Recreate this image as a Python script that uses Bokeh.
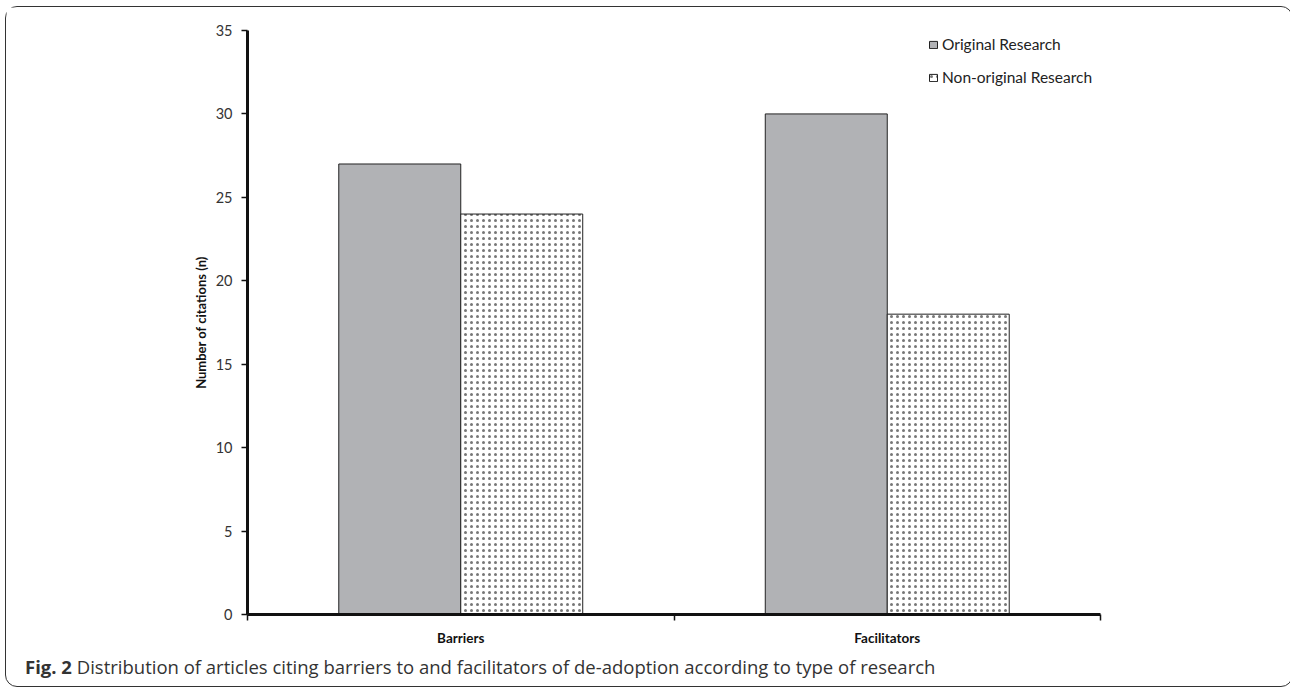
from bokeh.plotting import figure
from bokeh.models import (LinearAxis, FixedTicker, Legend, LegendItem, Div,
                          ColumnDataSource)
from bokeh.layouts import column
from bokeh.embed import file_html
from bokeh.resources import INLINE

categories = ["Barriers", "Facilitators"]
original = [27, 30]
non_original = [24, 18]
series_names = ["Original Research", "Non-original Research"]
y_ticks = [0, 5, 10, 15, 20, 25, 30, 35]
caption_bold = "Fig. 2"
caption_text = "Distribution of articles citing barriers to and facilitators of de-adoption according to type of research"

FONT = "Lato"
BW = 0.286
centers = [i + 0.5 for i in range(len(categories))]
bounds = list(range(len(categories) + 1))

src = ColumnDataSource(dict(
    x_orig=[c - BW / 2 for c in centers],
    x_non=[c + BW / 2 for c in centers],
    orig=original, non=non_original,
))

p = figure(frame_width=853, frame_height=584,
           x_range=(0, len(categories)), y_range=(0, 35),
           output_backend="svg", toolbar_location=None,
           min_border_left=241, min_border_top=23, min_border_right=184,
           min_border_bottom=10)
p.outline_line_color = None
p.xgrid.visible = False
p.ygrid.visible = False

r1 = p.vbar(x="x_orig", top="orig", width=BW, source=src,
            fill_color="#b1b2b5", line_color="#222222", line_width=1)
r2 = p.vbar(x="x_non", top="non", width=BW, source=src,
            fill_color="white", line_color="#222222", line_width=1,
            hatch_pattern="dot", hatch_color="#777777", hatch_scale=6,
            hatch_weight=0.8)

# y axis
ya = p.yaxis[0]
ya.ticker = FixedTicker(ticks=y_ticks)
ya.axis_line_width = 3
ya.axis_line_color = "#111111"
ya.major_tick_line_width = 1.5
ya.major_tick_line_color = "#111111"
ya.major_tick_out = 6
ya.major_tick_in = 0
ya.minor_tick_line_color = None
ya.major_label_text_font = FONT
ya.major_label_text_font_size = "14.5px"
ya.major_label_text_color = "#333333"
ya.major_label_standoff = 9
ya.axis_label = "Number of citations (n)"
ya.axis_label_text_font = FONT
ya.axis_label_text_font_size = "13px"
ya.axis_label_text_font_style = "bold"
ya.axis_label_text_color = "#111111"
ya.axis_label_standoff = 4

# x axis: boundary ticks between categories
xa = p.xaxis[0]
xa.ticker = FixedTicker(ticks=bounds)
xa.major_label_overrides = {b: "" for b in bounds}
xa.axis_line_width = 3
xa.axis_line_color = "#111111"
xa.major_tick_line_width = 1.5
xa.major_tick_line_color = "#111111"
xa.major_tick_out = 6
xa.major_tick_in = 0
xa.minor_tick_line_color = None
xa.major_label_standoff = 0

# x axis: category labels
xl = LinearAxis(ticker=FixedTicker(ticks=centers),
                major_label_overrides={c: n for c, n in zip(centers, categories)})
xl.axis_line_color = None
xl.major_tick_line_color = None
xl.minor_tick_line_color = None
xl.major_label_text_font = FONT
xl.major_label_text_font_size = "13.5px"
xl.major_label_text_font_style = "bold"
xl.major_label_text_color = "#111111"
xl.major_label_standoff = 3
p.add_layout(xl, "below")

legend = Legend(items=[LegendItem(label=series_names[0], renderers=[r1]),
                       LegendItem(label=series_names[1], renderers=[r2])],
                location=(681, 527), padding=0, margin=0, spacing=13,
                glyph_width=10, glyph_height=9, label_height=20,
                label_standoff=4, border_line_color=None,
                background_fill_alpha=0,
                label_text_font=FONT, label_text_font_size="15.5px",
                label_text_color="#222222")
p.add_layout(legend, "center")

cap = Div(text=f'<span style="font-weight:bold">{caption_bold}</span> {caption_text}',
          width=1276, height=28,
          styles={"font-family": "Open Sans", "font-size": "18.5px",
                  "color": "#333333", "padding-left": "14px",
                  "padding-top": "1px", "white-space": "nowrap"})

layout = column(p, cap, styles={"border": "1.5px solid #333333",
                                "border-radius": "12px",
                                "margin-left": "5px", "margin-top": "6px"})

open("out.html", "w").write(file_html(layout, INLINE))
